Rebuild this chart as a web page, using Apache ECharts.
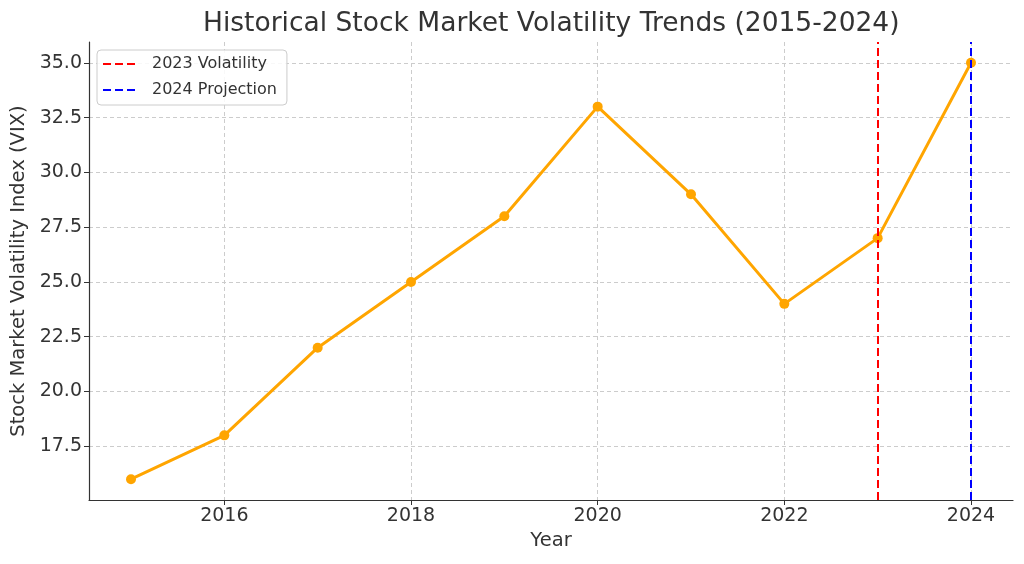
<!DOCTYPE html>
<html><head><meta charset="utf-8">
<script src="https://cdn.jsdelivr.net/npm/echarts@6/dist/echarts.min.js"></script>
<style>html,body{margin:0;padding:0;background:#fff}#c{width:1024px;height:564px}</style>
</head><body><div id="c"></div>
<script>
const years = [2015, 2016, 2017, 2018, 2019, 2020, 2021, 2022, 2023, 2024];
const vix = [16, 18, 22, 25, 28, 33, 29, 24, 27, 35];
const xTicks = [2016, 2018, 2020, 2022, 2024];
const yTicks = [17.5, 20, 22.5, 25, 27.5, 30, 32.5, 35];
const volatilityYear = 2023;
const projectionYear = 2024;
const titleText = 'Historical Stock Market Volatility Trends (2015-2024)';

const font = 'DejaVu Sans';
const chart = echarts.init(document.getElementById('c'), null, {renderer: 'canvas'});
chart.setOption({
  animation: false,
  backgroundColor: '#fff',
  textStyle: {fontFamily: font},
  title: {
    text: titleText, left: 203, top: 11, padding: 0,
    textStyle: {fontFamily: font, fontSize: 26.5, fontWeight: 'normal', color: '#333'}
  },
  grid: {left: 89, right: 11, top: 42, bottom: 64, containLabel: false},
  legend: {
    left: 97, top: 50, orient: 'vertical',
    data: ['2023 Volatility', '2024 Projection'],
    backgroundColor: 'rgba(255,255,255,0.85)',
    borderColor: '#ccc', borderWidth: 1, borderRadius: 4,
    padding: [6, 10, 7, 5],
    itemWidth: 35, itemHeight: 14, itemGap: 10,
    itemStyle: {opacity: 0},
    textStyle: {fontFamily: font, fontSize: 16, color: '#333', lineHeight: 16, padding: [0, 0, 0, 9]}
  },
  xAxis: {
    type: 'value', min: 2014.55, max: 2024.45,
    name: 'Year', nameLocation: 'middle', nameGap: 31,
    nameTextStyle: {fontFamily: font, fontSize: 19.5, color: '#333'},
    axisLine: {show: true, onZero: false, lineStyle: {color: '#333', width: 1.2}},
    axisTick: {show: true, length: 5, lineStyle: {color: '#333'}, customValues: xTicks},
    axisLabel: {fontFamily: font, fontSize: 19, color: '#333', margin: 7,
      customValues: xTicks, formatter: v => String(v)},
    splitLine: {show: true, lineStyle: {color: '#ccc', type: [4, 3], width: 1}}
  },
  yAxis: {
    type: 'value', min: 15.05, max: 35.95,
    name: 'Stock Market Volatility Index (VIX)', nameLocation: 'middle', nameGap: 60,
    nameTextStyle: {fontFamily: font, fontSize: 19.5, color: '#333'},
    axisLine: {show: true, lineStyle: {color: '#333', width: 1.2}},
    axisTick: {show: true, length: 5, lineStyle: {color: '#333'}, customValues: yTicks},
    axisLabel: {fontFamily: font, fontSize: 19, color: '#333', margin: 7,
      customValues: yTicks, formatter: v => v.toFixed(1)},
    splitLine: {show: true, lineStyle: {color: '#ccc', type: [4, 3], width: 1}}
  },
  series: [
    {
      type: 'line', name: 'VIX',
      data: years.map((y, i) => [y, vix[i]]),
      symbol: 'circle', symbolSize: 10,
      lineStyle: {color: '#FFA500', width: 3},
      itemStyle: {color: '#FFA500'},
      z: 3
    },
    {
      type: 'line', name: '2023 Volatility', data: [], symbol: 'none',
      lineStyle: {color: '#ff0000', type: [8, 4], width: 2},
      itemStyle: {color: '#ff0000'},
      markLine: {symbol: 'none', silent: true, label: {show: false},
        lineStyle: {color: '#ff0000', type: [8, 4], width: 2},
        data: [{xAxis: volatilityYear}]},
      z: 4
    },
    {
      type: 'line', name: '2024 Projection', data: [], symbol: 'none',
      lineStyle: {color: '#0000ff', type: [8, 4], width: 2},
      itemStyle: {color: '#0000ff'},
      markLine: {symbol: 'none', silent: true, label: {show: false},
        lineStyle: {color: '#0000ff', type: [8, 4], width: 2},
        data: [{xAxis: projectionYear}]},
      z: 4
    }
  ]
});
</script></body></html>
